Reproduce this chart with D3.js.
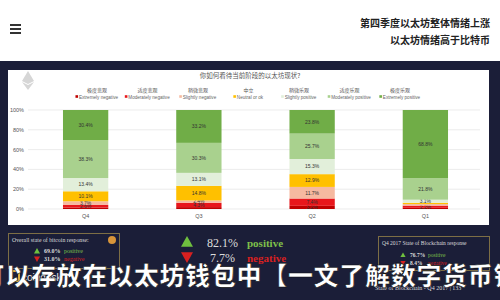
<!DOCTYPE html>
<html><head><meta charset="utf-8">
<script src="https://cdn.jsdelivr.net/npm/d3@7"></script>
<style>html,body{margin:0;padding:0;background:#fff;overflow:hidden}svg{display:block}</style>
</head><body>
<svg id="c" width="500" height="300"></svg>
<script>
const quarters = ["Q4","Q3","Q2","Q1"];
const seriesKeys = ["extNeg","modNeg","slNeg","neutral","slPos","modPos","extPos"];
const seriesZh = ["极度悲观","适度悲观","稍微悲观","中立","稍微乐观","适度乐观","极度乐观"];
const seriesEn = ["Extremely negative","Moderately negative","Slightly negative","Neutral or ok","Slightly positive","Moderately positive","Extremely positive"];
const seriesColors = ["#c00000","#e8161b","#f6b9a0","#ffc000","#e2efda","#a9d18e","#70ad47"];
const extNeg  = [1.5, 1.9, 3.2, 1.2];
const modNeg  = [2.6, 4.3, 7.4, 2.2];
const slNeg   = [3.7, 2.4, 11.7, 1.6];
const neutral = [10.1, 14.8, 12.9, 1.3];
const slPos   = [13.4, 13.1, 15.3, 3.1];
const modPos  = [38.3, 30.3, 25.7, 21.8];
const extPos  = [30.4, 33.2, 23.8, 68.8];
const yTicks = [0, 20, 40, 60, 80, 100];
const headline = ["第四季度以太坊整体情绪上涨","以太坊情绪高于比特币"];
const chartTitle = "你如何看待当前阶段的以太坊现状?";
const overlayText = "可以存放在以太坊钱包中【一文了解数字货币钱包";

const svg = d3.select("#c");
const navy = "#1b1e38";
// header
svg.append("rect").attr("x",0).attr("y",0).attr("width",500).attr("height",61).attr("fill","#fff");
[25,29,33].forEach(y=>svg.append("rect").attr("x",10).attr("y",y-1).attr("width",11).attr("height",2).attr("fill","#333"));
headline.forEach((t,i)=>svg.append("text").attr("x",490).attr("y",27+i*17).attr("text-anchor","end")
  .attr("font-family","Noto Sans CJK SC").attr("font-weight",700).attr("font-size",10).attr("fill","#222").text(t));
// navy band
svg.append("rect").attr("x",0).attr("y",61).attr("width",500).attr("height",239).attr("fill",navy);
// chart panel
svg.append("rect").attr("x",8).attr("y",70).attr("width",481).attr("height",155).attr("fill","#fff");
// eth logo
const eth = svg.append("g").attr("transform","translate(28,80)").attr("fill","#d6d6d6");
eth.append("path").attr("d","M0,-9 L6,1 L0,4 L-6,1 Z");
eth.append("path").attr("d","M0,5 L6,2 L0,10 L-6,2 Z");

svg.append("text").attr("x",250).attr("y",78).attr("text-anchor","middle").attr("font-family","Noto Sans CJK SC")
  .attr("font-size",6.5).attr("fill","#555").text(chartTitle);

// legend
seriesKeys.forEach((k,i)=>{
  const cx = 97 + i*50.5;
  svg.append("text").attr("x",cx).attr("y",92).attr("text-anchor","middle").attr("font-family","Noto Sans CJK SC")
    .attr("font-size",5).attr("fill","#555").text(seriesZh[i]);
  const t = svg.append("text").attr("x",cx+1.5).attr("y",98.5).attr("text-anchor","middle").attr("font-family","Liberation Sans")
    .attr("font-size",4.6).attr("fill","#666").text(seriesEn[i]);
  const w = t.node().getComputedTextLength();
  svg.append("rect").attr("x",cx+1.5-w/2-3.5).attr("y",95.2).attr("width",2.6).attr("height",2.6).attr("fill",seriesColors[i]);
});

const x = d3.scaleBand().domain(quarters).range([29,482]).paddingInner(0.6).paddingOuter(0.3);
const y = d3.scaleLinear().domain([0,100]).range([209,110]);

// grid + y labels
yTicks.forEach(v=>{
  svg.append("line").attr("x1",28).attr("x2",480).attr("y1",y(v)).attr("y2",y(v)).attr("stroke","#e4e4e4").attr("stroke-width",0.7);
  svg.append("text").attr("x",24).attr("y",y(v)+2).attr("text-anchor","end").attr("font-family","Liberation Sans")
    .attr("font-size",5.5).attr("fill","#555").text(v+"%");
});

const vals = {extNeg,modNeg,slNeg,neutral,slPos,modPos,extPos};
const rows = quarters.map((q,i)=>{const o={q}; seriesKeys.forEach(k=>o[k]=vals[k][i]); return o;});
const stack = d3.stack().keys(seriesKeys)(rows);
stack.forEach((s,si)=>{
  const g = svg.append("g");
  g.selectAll("rect").data(s).join("rect")
    .attr("x",d=>x(d.data.q)).attr("width",x.bandwidth())
    .attr("y",d=>y(d[1])).attr("height",d=>y(d[0])-y(d[1])).attr("fill",seriesColors[si]);
  g.selectAll("text").data(s.filter(d=>d[1]-d[0]>=2)).join("text")
    .attr("x",d=>x(d.data.q)+x.bandwidth()/2).attr("y",d=>(y(d[0])+y(d[1]))/2+1.8)
    .attr("text-anchor","middle").attr("font-family","Liberation Sans").attr("font-size",5)
    .attr("fill","#333").text(d=>(d[1]-d[0]).toFixed(1)+"%");
});
quarters.forEach(q=>svg.append("text").attr("x",x(q)+x.bandwidth()/2).attr("y",218).attr("text-anchor","middle")
  .attr("font-family","Liberation Sans").attr("font-size",5.5).attr("fill","#555").text(q));

// bottom info boxes
const serif = "Liberation Serif";
function tri(cx,cy,up,s,col){
  const p = up?`M${cx},${cy-s} L${cx+s},${cy+s*0.8} L${cx-s},${cy+s*0.8} Z`:`M${cx},${cy+s} L${cx+s},${cy-s*0.8} L${cx-s},${cy-s*0.8} Z`;
  svg.append("path").attr("d",p).attr("fill",col);
}
svg.append("rect").attr("x",8.5).attr("y",233.5).attr("width",111).attr("height",35).attr("fill","none").attr("stroke","#7d6e45").attr("stroke-width",1);
svg.append("text").attr("x",12).attr("y",242).attr("font-family",serif).attr("font-size",5.8).attr("fill","#ddd").text("Overall state of bitcoin response:");
svg.append("circle").attr("cx",112).attr("cy",240).attr("r",4).attr("fill","#d8953a");
tri(37,251,true,3,"#6fbf3f"); tri(37,259,false,3,"#d82020");
svg.append("text").attr("x",44).attr("y",253).attr("font-family",serif).attr("font-weight",700).attr("font-size",6).attr("fill","#ddd").text("69.0%");
svg.append("text").attr("x",64).attr("y",253).attr("font-family",serif).attr("font-size",6).attr("fill","#7fc04a").text("positive");
svg.append("text").attr("x",44).attr("y",261).attr("font-family",serif).attr("font-weight",700).attr("font-size",6).attr("fill","#ddd").text("31.0%");
svg.append("text").attr("x",64).attr("y",261).attr("font-family",serif).attr("font-size",6).attr("fill","#d82020").text("negative");

tri(187,242,true,6,"#6fbf3f"); tri(187,257,false,6,"#d82020");
svg.append("text").attr("x",207).attr("y",247).attr("font-family",serif).attr("font-size",12).attr("fill","#ddd").text("82.1%");
svg.append("text").attr("x",247).attr("y",247).attr("font-family",serif).attr("font-weight",700).attr("font-size",11).attr("fill","#7fc04a").text("positive");
svg.append("text").attr("x",210).attr("y",262).attr("font-family",serif).attr("font-size",12).attr("fill","#ddd").text("7.7%");
svg.append("text").attr("x",247).attr("y",262).attr("font-family",serif).attr("font-weight",700).attr("font-size",11).attr("fill","#d82020").text("negative");

svg.append("rect").attr("x",378.5).attr("y",236.5).attr("width",111).attr("height",34).attr("fill","none").attr("stroke","#7d6e45").attr("stroke-width",1);
svg.append("text").attr("x",382).attr("y",245).attr("font-family",serif).attr("font-size",5.5).attr("fill","#ddd").text("Q4 2017 State of Blockchain response");
tri(403,255,true,2.6,"#6fbf3f"); tri(403,263,false,2.6,"#d82020");
svg.append("text").attr("x",410).attr("y",257).attr("font-family",serif).attr("font-weight",700).attr("font-size",5.5).attr("fill","#ddd").text("76.7%");
svg.append("text").attr("x",428).attr("y",257).attr("font-family",serif).attr("font-size",5.5).attr("fill","#7fc04a").text("positive");
svg.append("text").attr("x",410).attr("y",265).attr("font-family",serif).attr("font-weight",700).attr("font-size",5.5).attr("fill","#ddd").text("8.4%");
svg.append("text").attr("x",428).attr("y",265).attr("font-family",serif).attr("font-size",5.5).attr("fill","#d82020").text("negative");

svg.append("text").attr("x",375).attr("y",290).attr("font-family",serif).attr("font-size",6).attr("fill","#ddd").text("State of Blockchain - Q4 2017    |    133");
// coindesk
svg.append("rect").attr("x",12).attr("y",271).attr("width",7).attr("height",10).attr("fill","none").attr("stroke","#e0b040").attr("stroke-width",2);
svg.append("text").attr("x",22).attr("y",281).attr("font-family","Liberation Sans").attr("font-size",10).attr("fill","#eee").text("coindesk");

// overlay headline
svg.append("text").attr("x",-20.5).attr("y",285).attr("font-family","Noto Sans CJK SC").attr("font-weight",900)
  .attr("font-size",25).attr("fill","#fff").attr("stroke","#111").attr("stroke-width",0.6).attr("letter-spacing",0.7).text(overlayText);
</script>
</body></html>
